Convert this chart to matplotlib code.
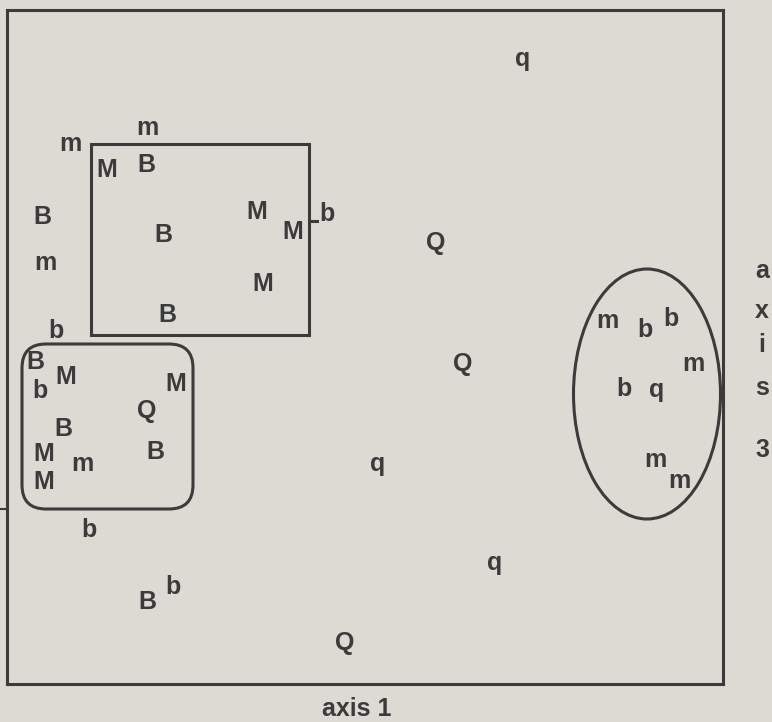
import matplotlib
matplotlib.use("Agg")
import matplotlib.pyplot as plt
from matplotlib.patches import Ellipse, FancyBboxPatch, Rectangle

# plot positions (x along axis 1, y = text baseline, top down)
labels = ['m', 'm', 'M', 'B', 'B', 'B', 'M', 'M', 'b', 'm', 'M', 'B', 'b',
          'B', 'M', 'b', 'M', 'Q', 'B', 'B', 'M', 'm', 'M', 'b', 'B', 'b',
          'Q', 'q', 'q', 'Q', 'Q', 'm', 'b', 'b', 'm', 'b', 'q', 'm', 'm', 'q']
xs = [70, 147, 107, 146, 42, 163, 257, 293, 327, 45, 263, 167, 56,
      35, 66, 40, 176, 147, 63, 155, 44, 82, 44, 89, 147, 173,
      345, 523, 378, 436, 463, 607, 645, 671, 693, 624, 657, 655, 679, 495]
ys = [151, 135, 177, 172, 224, 242, 219, 239, 221, 270, 291, 322, 338,
      369, 384, 398, 391, 418, 436, 459, 461, 471, 489, 537, 609, 594,
      650, 66, 471, 250, 371, 328, 337, 326, 371, 396, 397, 467, 488, 570]

axis3_letters = ['a', 'x', 'i', 's', '3']
axis3_y = [278, 318, 352, 395, 457]

bg = '#dcdad3'
ink = '#3b3b3b'

fig = plt.figure(figsize=(7.72, 7.22), dpi=100)
fig.patch.set_facecolor(bg)
ax = fig.add_axes([7/772, 1 - 684/722, (723-7)/772, (684-10)/722])
ax.set_facecolor(bg)
ax.set_xlim(7, 723)
ax.set_ylim(684, 10)
for s in ax.spines.values():
    s.set_color(ink)
    s.set_linewidth(2.2)
ax.set_xticks([])
ax.set_yticks([509])
ax.set_yticklabels([])
ax.tick_params(axis='y', direction='out', length=6, width=1.5, color=ink)

# groupings
ax.add_patch(Rectangle((91, 144), 218, 191, fill=False, lw=2.2, ec=ink, clip_on=False))
ax.add_patch(FancyBboxPatch((22, 344), 171, 165, boxstyle='round,pad=0,rounding_size=24',
                            fill=False, lw=2.2, ec=ink, clip_on=False))
ax.add_patch(Ellipse((647, 394), 147, 250, fill=False, lw=2.2, ec=ink, clip_on=False))
ax.plot([309, 317], [221, 221], color=ink, lw=2.2, clip_on=False)

font = dict(family='Liberation Sans', size=18, weight='bold', color=ink)
for lab, x, y in zip(labels, xs, ys):
    ax.text(x, y, lab, ha='center', va='baseline', clip_on=False, zorder=3, **font)

ax.text(357, 716, 'axis 1', ha='center', va='baseline', clip_on=False, **font)
for lab, y in zip(axis3_letters, axis3_y):
    ax.text(762, y, lab, ha='center', va='baseline', clip_on=False, **font)

fig.savefig('out.png', dpi=100, facecolor=bg)
